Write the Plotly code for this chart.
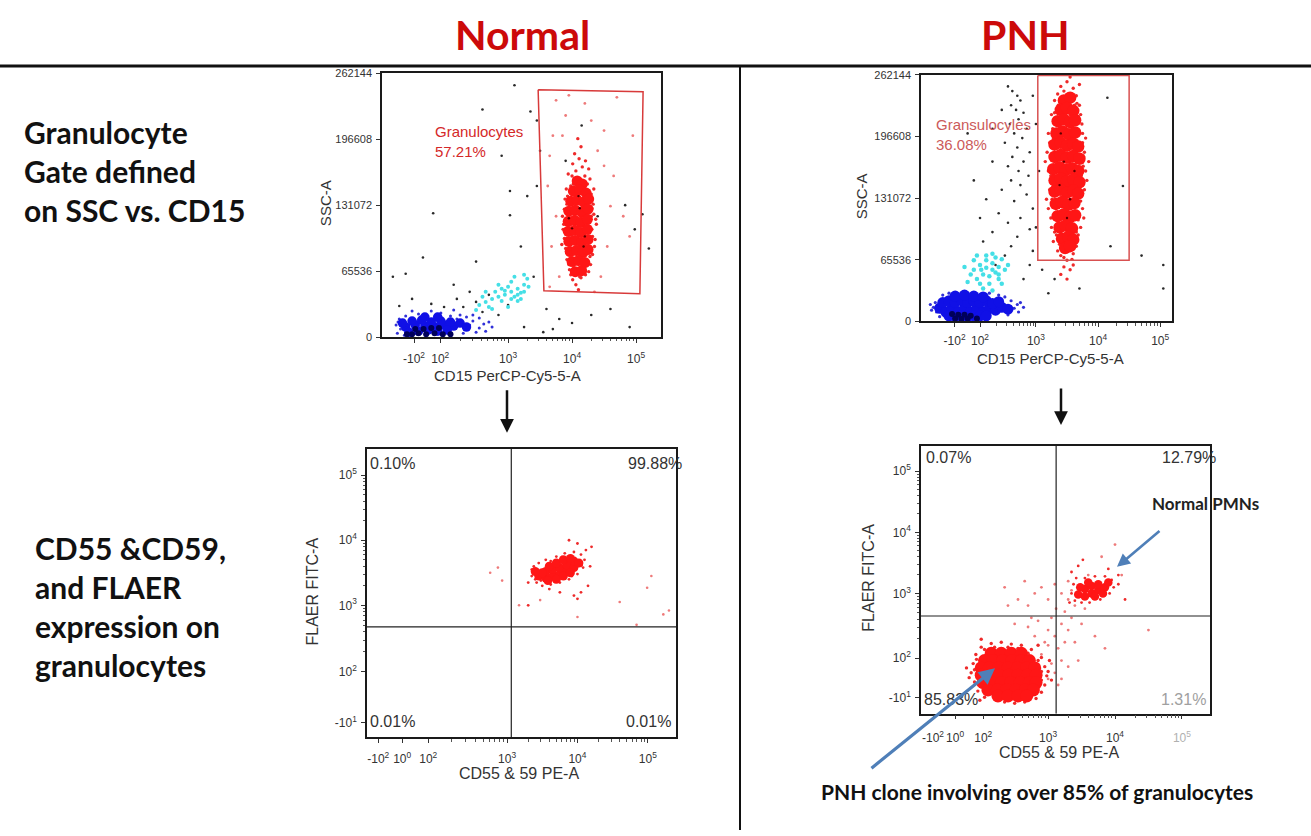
import math
import plotly.graph_objects as go

W, H = 1311, 836

# ---------------- tick definitions (positions in display/decade units) ----------------
SSC_TICKS = [0, 65536, 131072, 196608, 262144]
P1_X_TICKPOS = [1.53, 1.94, 3, 4, 5]
P1_X_TICKTXT = ["-10<sup>2</sup>", "10<sup>2</sup>", "10<sup>3</sup>", "10<sup>4</sup>", "10<sup>5</sup>"]
P2_X_TICKPOS = [1.69, 2.10, 3, 4, 5]
P3_X_TICKPOS = [1.17, 1.51, 1.88, 3, 4, 5]
P3_X_TICKTXT = ["-10<sup>2</sup>", "10<sup>0</sup>", "10<sup>2</sup>", "10<sup>3</sup>", "10<sup>4</sup>", "10<sup>5</sup>"]
P3_Y_TICKPOS = [1.20, 1.98, 3, 4, 5]
P3_Y_TICKTXT = ["-10<sup>1</sup>", "10<sup>2</sup>", "10<sup>3</sup>", "10<sup>4</sup>", "10<sup>5</sup>"]
P4_X_TICKPOS = [1.28, 1.61, 2.03, 3, 4, 5]
P4_X_TICKTXT = ["-10<sup>2</sup>", "10<sup>0</sup>", "10<sup>2</sup>", "10<sup>3</sup>", "10<sup>4</sup>",
                "<span style='color:#b0b0b0'>10<sup>5</sup></span>"]
P4_Y_TICKPOS = [1.29, 1.94, 3, 4, 5]

# ---------------- gates / quadrants / labels ----------------
P1_GATE_X = [3.47, 5.11, 5.06, 3.56, 3.47]
P1_GATE_Y = [245.5, 243.5, 43, 46, 245.5]          # SSC in thousands
P2_GATE_X = [3.03, 4.50, 4.50, 3.03, 3.03]
P2_GATE_Y = [261.5, 261.5, 65, 65, 261.5]
P3_QUAD = (3.06, 2.67)
P4_QUAD = (3.12, 2.63)
P1_GATE_LABEL = ["Granulocytes", "57.21%"]
P2_GATE_LABEL = ["Gransulocyles", "36.08%"]
P3_QUAD_PCT = ["0.10%", "99.88%", "0.01%", "0.01%"]
P4_QUAD_PCT = ["0.07%", "12.79%", "85.83%", "1.31%"]

# ---------------- Panel 1 : Normal, SSC (k) vs CD15 ----------------
P1_GRAN_CORE = [
    (4.08, 155), (4.16, 152),
    (4.02, 145), (4.12, 146), (4.22, 143),
    (3.98, 135), (4.08, 136), (4.18, 134), (4.26, 137),
    (3.95, 125), (4.05, 126), (4.15, 124), (4.25, 127),
    (3.94, 115), (4.04, 116), (4.14, 114), (4.24, 117),
    (3.94, 105), (4.04, 106), (4.14, 104), (4.24, 107),
    (3.95, 95), (4.05, 96), (4.15, 94), (4.25, 97),
    (3.97, 85), (4.07, 86), (4.17, 84), (4.25, 87),
    (4.0, 75), (4.1, 76), (4.2, 74),
    (4.05, 65), (4.15, 66)]
P1_GRAN_HALO = [
    (3.86, 107), (3.88, 127), (3.84, 92), (3.91, 147), (3.92, 77), (3.94, 162), (3.96, 67), (3.9, 117),
    (3.93, 102), (3.89, 137), (4.31, 107), (4.34, 122), (4.36, 97), (4.3, 142), (4.32, 82), (4.28, 157),
    (4.33, 132), (4.38, 112), (4.29, 72), (4.26, 167), (4.01, 172), (4.11, 177), (4.16, 169), (4.04, 182),
    (4.14, 189), (4.09, 197), (4.06, 165), (4.21, 175), (4.01, 57), (4.06, 52), (4.14, 59), (4.21, 62),
    (3.98, 62), (4.1, 47), (4.26, 65), (3.96, 82), (4.28, 89), (3.92, 132), (4.34, 147), (4.02, 152),
    (4.24, 152), (4.16, 64), (4.03, 69), (3.9, 88), (4.35, 90), (3.95, 112), (4.3, 120), (4.0, 100),
    (4.2, 130), (4.12, 110), (3.98, 150), (4.22, 100), (3.88, 98), (3.87, 112), (4.32, 100), (4.31, 128),
    (3.93, 140), (4.28, 80), (3.95, 72), (4.2, 160), (4.0, 160), (4.12, 60), (3.85, 120), (4.37, 117)]
P1_GRAN_SPARSE = [
    (3.7, 200), (3.9, 220), (4.3, 215), (4.5, 205), (3.65, 180), (4.6, 130), (4.8, 120), (3.68, 90),
    (4.45, 60), (3.75, 235), (4.7, 238), (3.62, 150), (4.9, 100), (3.65, 50), (4.5, 170), (4.2, 232),
    (3.95, 240), (4.55, 90), (3.8, 60), (4.4, 185), (3.75, 120), (4.65, 160), (4.95, 200), (4.35, 45),
    (3.85, 200)]
P1_DARK = [
    (1.83, 123), (1.67, 79), (1.4, 63), (3.03, 145), (3.03, 121), (2.6, 226), (3.35, 224), (4.83, 131),
    (4.98, 107), (2.5, 75), (2.9, 180), (3.3, 140), (3.45, 150), (1.2, 60), (3.4, 60), (3.45, 215),
    (2.3, 30), (2.5, 35), (2.7, 42), (2.2, 38), (2.6, 25), (2.85, 22), (3.0, 32), (2.4, 45), (2.0, 30),
    (1.8, 33), (1.5, 38), (1.3, 31), (3.6, 28), (3.8, 18), (4.0, 14), (3.7, 8), (3.25, 10), (3.55, 5),
    (4.3, 22), (4.6, 28), (4.9, 10), (5.2, 88), (5.1, 122), (3.2, 90), (2.15, 52), (3.5, 185), (3.1, 250),
    (4.15, 210), (3.9, 175), (4.4, 120), (4.05, 85), (4.1, 140), (3.95, 118), (4.2, 100), (4.12, 128),
    (4.0, 108), (4.18, 90)]
P1_LYMPH = [
    (1.40, 10), (1.55, 12), (1.70, 11), (1.85, 10), (2.0, 12), (2.15, 11), (1.5, 16), (1.65, 17), (1.8, 15),
    (1.95, 16), (2.1, 15), (1.6, 6), (1.75, 7), (1.9, 6), (1.45, 5), (2.05, 7), (1.35, 14), (2.25, 14),
    (1.7, 20), (1.9, 20), (2.35, 10)]
P1_LYMPH_HALO = [
    (1.25, 12), (1.3, 18), (1.32, 8), (1.27, 4), (2.4, 12), (2.45, 16), (2.55, 9), (2.62, 13), (2.35, 20),
    (2.25, 22), (1.95, 24), (1.6, 23), (1.4, 21), (2.1, 21), (2.7, 15), (2.5, 5), (2.3, 4), (1.38, 2),
    (2.75, 10), (2.55, 19), (1.8, 26), (2.15, 27), (1.5, 26), (2.65, 6), (2.45, 22), (2.2, 18), (1.28, 15)]
P1_NAVY = [(1.5, 3), (1.6, 4), (1.72, 3), (1.85, 4), (1.98, 3), (1.68, 8), (1.8, 9), (1.55, 8), (1.92, 9),
           (2.1, 3), (1.42, 3)]
P1_MONO = [
    (2.55, 32), (2.65, 35), (2.75, 38), (2.85, 40), (2.95, 42), (3.05, 45), (3.15, 48), (3.25, 52), (2.7, 30),
    (2.8, 45), (2.9, 36), (3.0, 50), (3.1, 40), (3.2, 44), (3.3, 58), (2.6, 40), (2.9, 48), (3.05, 55),
    (3.15, 36), (2.75, 28), (3.25, 62), (3.32, 50), (2.5, 27), (3.0, 30), (2.85, 52), (3.1, 60), (2.65, 45),
    (3.2, 38), (3.05, 38), (3.15, 42), (2.95, 46), (3.25, 45)]

# ---------------- Panel 2 : PNH, SSC (k) vs CD15 ----------------
P2_GRAN_CORE = [
    (3.45, 235), (3.55, 238),
    (3.40, 225), (3.50, 227), (3.60, 224),
    (3.35, 213), (3.45, 215), (3.55, 212), (3.63, 214),
    (3.33, 200), (3.43, 202), (3.53, 199), (3.63, 201),
    (3.30, 188), (3.40, 190), (3.50, 187), (3.60, 189), (3.68, 186),
    (3.30, 175), (3.40, 177), (3.50, 174), (3.60, 176), (3.70, 173),
    (3.28, 162), (3.38, 164), (3.48, 161), (3.58, 163), (3.68, 160),
    (3.30, 150), (3.40, 152), (3.50, 149), (3.60, 151), (3.70, 148),
    (3.30, 138), (3.40, 140), (3.50, 137), (3.60, 139), (3.68, 136),
    (3.32, 125), (3.42, 127), (3.52, 124), (3.62, 126),
    (3.35, 112), (3.45, 114), (3.55, 111), (3.63, 113),
    (3.38, 100), (3.48, 102), (3.58, 99),
    (3.42, 88), (3.52, 90), (3.6, 87),
    (3.47, 78), (3.55, 80)]
P2_GRAN_HALO = [
    (3.4, 250), (3.5, 255), (3.6, 248), (3.55, 260), (3.45, 245), (3.65, 240), (3.35, 242), (3.7, 252),
    (3.2, 200), (3.18, 180), (3.2, 160), (3.22, 140), (3.2, 120), (3.25, 100), (3.28, 85), (3.25, 220),
    (3.3, 235), (3.15, 170), (3.17, 130), (3.22, 190), (3.24, 110), (3.78, 180), (3.8, 160), (3.78, 140),
    (3.75, 120), (3.72, 100), (3.75, 200), (3.72, 220), (3.8, 195), (3.82, 150), (3.7, 230), (3.85, 170),
    (3.77, 110), (3.4, 70), (3.5, 65), (3.6, 72), (3.45, 58), (3.55, 55), (3.35, 75), (3.65, 80), (3.5, 45),
    (3.4, 50), (3.6, 60), (3.26, 150), (3.74, 210), (3.3, 95), (3.68, 92), (3.36, 230), (3.66, 232),
    (3.27, 205), (3.25, 175), (3.24, 155), (3.26, 130), (3.3, 112), (3.33, 92), (3.75, 190), (3.76, 165),
    (3.74, 145), (3.72, 128), (3.68, 108), (3.65, 95), (3.38, 82), (3.62, 84), (3.45, 68), (3.58, 66),
    (3.5, 240), (3.42, 232), (3.62, 230), (3.68, 218), (3.3, 222), (3.28, 195), (3.77, 175), (3.73, 155),
    (3.23, 165), (3.27, 143)]
P2_DARK = [
    (2.55, 250), (2.62, 245), (2.7, 240), (2.75, 235), (2.6, 230), (2.68, 225), (2.8, 222), (2.72, 215),
    (2.58, 210), (2.85, 205), (2.65, 200), (2.78, 195), (2.5, 190), (2.7, 185), (2.9, 180), (2.62, 175),
    (2.8, 170), (2.55, 165), (2.72, 160), (2.88, 155), (2.6, 150), (2.75, 145), (2.45, 140), (2.85, 135),
    (2.65, 128), (2.95, 120), (2.4, 115), (2.75, 110), (2.55, 105), (2.9, 98), (2.3, 95), (2.7, 90),
    (2.6, 80), (2.95, 75), (2.2, 130), (2.1, 110), (2.0, 150), (1.9, 200), (2.3, 170), (2.15, 85),
    (2.5, 70), (2.35, 60), (3.0, 210), (2.95, 240), (3.05, 160), (3.0, 100), (2.45, 225), (2.3, 205),
    (4.15, 238), (4.4, 144), (5.05, 60), (5.05, 35), (4.2, 80), (4.7, 70), (2.9, 60), (3.1, 55),
    (3.3, 45), (3.7, 35), (3.2, 30), (2.8, 45), (3.45, 170), (3.55, 130), (3.4, 200), (3.62, 160),
    (3.5, 110), (3.38, 145)]
P2_MONO = [
    (2.0, 55), (2.1, 60), (2.2, 65), (2.3, 62), (2.4, 58), (2.15, 50), (2.25, 48), (2.35, 52), (2.05, 45),
    (2.45, 66), (2.2, 70), (2.3, 72), (1.95, 50), (2.1, 40), (2.25, 40), (2.4, 45), (2.5, 55), (2.0, 65),
    (1.9, 42), (2.15, 35), (2.3, 33), (2.55, 60), (2.35, 68), (2.05, 70), (1.85, 58), (2.45, 40),
    (2.2, 57), (2.3, 55), (2.12, 55), (2.4, 50)]
P2_LYMPH = [
    (1.45, 14), (1.55, 10), (1.65, 14), (1.75, 10), (1.85, 14), (1.95, 10), (2.05, 14), (2.15, 10),
    (2.25, 14), (2.35, 12), (2.45, 15), (2.55, 13),
    (1.5, 20), (1.6, 22), (1.7, 20), (1.8, 23), (1.9, 20), (2.0, 22), (2.1, 20), (2.2, 22), (2.3, 19),
    (2.4, 21),
    (1.6, 6), (1.7, 5), (1.8, 6), (1.9, 5), (2.0, 6), (2.1, 6), (2.2, 6),
    (1.7, 27), (1.85, 28), (2.0, 27), (2.15, 26)]
P2_LYMPH_HALO = [
    (1.35, 15), (1.38, 20), (1.4, 10), (2.65, 14), (2.7, 18), (2.72, 10), (1.5, 28), (2.4, 28), (1.3, 18),
    (2.6, 22), (2.55, 7), (1.45, 5), (2.8, 15), (1.6, 30), (2.25, 30), (1.32, 12), (2.75, 20), (2.5, 26)]
P2_NAVY = [(1.7, 3), (1.8, 2.5), (1.9, 3), (1.85, 7), (1.75, 7), (1.95, 6), (1.65, 8), (2.05, 3)]

# ---------------- Panel 3 : Normal, FLAER vs CD55/59 ----------------
P3_CORE = [
    (3.45, 3.45), (3.55, 3.42), (3.55, 3.52), (3.65, 3.45), (3.65, 3.55), (3.75, 3.48), (3.75, 3.58),
    (3.85, 3.52), (3.85, 3.62), (3.95, 3.58), (3.95, 3.68), (4.02, 3.65), (3.5, 3.5), (3.6, 3.6),
    (3.7, 3.65), (3.8, 3.7), (3.9, 3.72), (3.7, 3.4), (3.8, 3.45), (3.9, 3.5), (3.4, 3.52), (3.58, 3.38)]
P3_HALO = [
    (3.35, 3.45), (3.38, 3.6), (3.42, 3.35), (3.5, 3.3), (3.62, 3.32), (3.75, 3.35), (3.88, 3.4), (4.0, 3.48),
    (4.08, 3.58), (4.1, 3.7), (4.05, 3.78), (3.95, 3.82), (3.82, 3.8), (3.7, 3.75), (3.55, 3.7), (3.45, 3.65),
    (3.35, 3.55), (4.12, 3.85), (4.2, 3.9), (4.0, 3.95), (3.88, 4.0), (4.15, 3.3), (4.05, 3.2), (3.95, 3.15),
    (4.0, 3.1), (3.75, 3.2), (3.3, 3.0), (3.6, 3.25), (4.18, 3.6), (3.3, 3.35), (3.4, 3.4), (3.48, 3.38),
    (3.68, 3.36), (3.92, 3.45), (4.06, 3.62), (3.62, 3.68), (3.78, 3.74)]
P3_SPARSE = [
    (2.76, 3.5), (2.87, 3.58), (2.93, 3.38), (3.17, 3.0), (3.47, 3.08), (4.0, 2.82), (4.6, 3.05),
    (4.99, 3.27), (5.05, 3.45), (5.22, 2.86), (5.3, 2.92), (4.84, 2.70)]

# ---------------- Panel 4 : PNH, FLAER vs CD55/59 ----------------
P4_CLONE_CORE = [
    (2.15, 2.02), (2.3, 2.02), (2.45, 2.02), (2.6, 2.02),
    (2.05, 1.9), (2.18, 1.9), (2.32, 1.9), (2.46, 1.9), (2.6, 1.9), (2.72, 1.9),
    (2.0, 1.78), (2.12, 1.78), (2.26, 1.78), (2.4, 1.78), (2.54, 1.78), (2.68, 1.78), (2.8, 1.78),
    (2.0, 1.66), (2.13, 1.66), (2.27, 1.66), (2.41, 1.66), (2.55, 1.66), (2.69, 1.66), (2.82, 1.66),
    (2.03, 1.54), (2.16, 1.54), (2.3, 1.54), (2.44, 1.54), (2.58, 1.54), (2.72, 1.54), (2.82, 1.54),
    (2.1, 1.42), (2.24, 1.42), (2.38, 1.42), (2.52, 1.42), (2.66, 1.42), (2.78, 1.42),
    (2.25, 1.32), (2.4, 1.32), (2.55, 1.32), (2.68, 1.32)]
P4_CLONE_HALO = [
    (1.85, 1.7), (1.88, 1.85), (1.9, 1.55), (1.92, 2.0), (1.95, 1.4), (1.82, 1.62), (2.0, 2.12),
    (2.15, 2.18), (2.3, 2.2), (2.45, 2.17), (2.6, 2.15), (2.75, 2.08), (2.9, 1.95), (2.95, 1.8),
    (2.98, 1.65), (2.95, 1.5), (2.9, 1.38), (2.82, 1.28), (2.65, 1.22), (2.5, 1.2), (2.35, 1.22),
    (2.2, 1.28), (2.05, 1.3), (1.98, 1.25), (3.0, 1.72), (3.05, 1.58), (3.02, 1.9), (1.78, 1.78),
    (2.85, 2.15), (2.0, 2.25), (1.9, 1.75), (1.93, 1.92), (1.96, 1.5), (2.05, 2.08), (2.2, 2.12),
    (2.4, 2.12), (2.55, 2.1), (2.7, 2.02), (2.85, 1.9), (2.9, 1.72), (2.9, 1.58), (2.85, 1.45),
    (2.75, 1.32), (2.6, 1.27), (2.4, 1.26), (2.2, 1.33), (2.08, 1.4), (1.95, 1.62)]
P4_BRIDGE = [
    (2.9, 2.0), (2.95, 2.2), (3.0, 2.4), (3.05, 2.6), (3.1, 2.3), (3.15, 2.1), (3.2, 1.9), (3.1, 1.7),
    (3.0, 1.6), (3.2, 2.5), (3.25, 2.7), (3.3, 2.9), (3.35, 3.05), (3.25, 2.2), (3.3, 2.4), (3.35, 2.6),
    (3.2, 1.6), (3.15, 1.5), (3.05, 1.85), (3.4, 2.8), (3.45, 2.95), (2.85, 2.55), (2.8, 2.3), (2.75, 2.6),
    (2.7, 2.8), (3.0, 2.9), (2.9, 3.1), (3.1, 3.15), (3.4, 2.2), (3.5, 2.5), (3.3, 1.8), (2.65, 3.2),
    (2.8, 3.0), (3.55, 2.75), (3.45, 1.9), (2.7, 2.45), (3.0, 2.15), (3.12, 2.75), (3.2, 3.0), (3.3, 3.2),
    (2.5, 2.5), (2.4, 2.8), (2.35, 3.1), (2.55, 2.9), (3.6, 3.3), (3.7, 2.3), (3.85, 2.1), (4.1, 3.3),
    (4.5, 2.4), (4.0, 3.8), (3.8, 3.6)]
P4_PMN_CORE = [
    (3.45, 2.98), (3.55, 2.95), (3.55, 3.07), (3.65, 3.0), (3.65, 3.12), (3.75, 3.05), (3.75, 3.15),
    (3.85, 3.1), (3.48, 3.1), (3.6, 3.18), (3.7, 2.95), (3.82, 3.0), (3.9, 3.18)]
P4_PMN_HALO = [
    (3.35, 3.0), (3.38, 3.15), (3.4, 2.88), (3.5, 2.85), (3.62, 2.85), (3.78, 2.9), (3.92, 3.0),
    (3.98, 3.1), (3.95, 3.22), (3.85, 3.28), (3.7, 3.28), (3.55, 3.25), (3.42, 3.25), (3.35, 3.35),
    (3.45, 3.45), (3.52, 3.55), (4.05, 3.15), (4.05, 3.3), (3.9, 3.4), (4.15, 2.9), (3.32, 2.85)]

# ====================================================================================
fig = go.Figure()


def px_x(p):
    return p / W


def px_y(p):
    return 1 - p / H


def dots(pts, ax, color, size, opacity=1.0):
    fig.add_trace(go.Scatter(
        x=[p[0] for p in pts], y=[p[1] for p in pts], mode="markers",
        xaxis="x" + ax, yaxis="y" + ax, hoverinfo="skip",
        marker=dict(color=color, size=size, opacity=opacity, line=dict(width=0))))


def line(xs, ys, ax, color, width):
    fig.add_trace(go.Scatter(x=xs, y=ys, mode="lines", xaxis="x" + ax, yaxis="y" + ax,
                             hoverinfo="skip", line=dict(color=color, width=width)))


RED, RED_H, RED_S = "#ff1616", "#ee2a2a", "#ee7a7a"
BLUE, BLUE_H, NAVY = "#1010e6", "#3030d8", "#00005a"
CYAN, DARK = "#45dfe6", "#2a2a2a"

# Panel 1
dots(P1_DARK, "", DARK, 2.6)
dots(P1_GRAN_SPARSE, "", RED_S, 2.8)
dots(P1_MONO, "", CYAN, 4)
dots(P1_LYMPH_HALO, "", BLUE_H, 3)
dots(P1_LYMPH, "", BLUE, 9.5)
dots(P1_NAVY, "", NAVY, 6)
dots(P1_GRAN_HALO, "", RED_H, 3.4)
dots(P1_GRAN_CORE, "", RED, 11)
dots(P1_DARK[-6:], "", "#5a0000", 2.4)
line(P1_GATE_X, P1_GATE_Y, "", "#d83a3a", 1.5)

# Panel 2
dots(P2_DARK, "2", DARK, 2.6)
dots(P2_MONO, "2", CYAN, 4.5)
dots(P2_LYMPH_HALO, "2", BLUE_H, 3.2)
dots(P2_LYMPH, "2", BLUE, 11)
dots(P2_NAVY, "2", NAVY, 6)
dots(P2_GRAN_HALO, "2", RED_H, 3.4)
dots(P2_GRAN_CORE, "2", RED, 12.5)
dots(P2_DARK[-6:], "2", "#600000", 2.4)
line(P2_GATE_X, P2_GATE_Y, "2", "#d85050", 1.5)

# Panel 3
dots(P3_SPARSE, "3", RED_S, 2.6)
dots(P3_HALO, "3", RED_H, 2.8)
dots(P3_CORE, "3", RED, 9)
P3_XR, P3_YR = [1.01, 5.40], [0.97, 5.41]
line([P3_QUAD[0], P3_QUAD[0]], P3_YR, "3", "#222", 1.2)
line(P3_XR, [P3_QUAD[1], P3_QUAD[1]], "3", "#222", 1.2)

# Panel 4
dots(P4_BRIDGE, "4", RED_S, 2.8)
dots(P4_CLONE_HALO, "4", RED_H, 3.4)
dots(P4_CLONE_CORE, "4", RED, 13)
dots(P4_PMN_HALO, "4", RED_H, 2.8)
dots(P4_PMN_CORE, "4", RED, 8.5)
P4_XR, P4_YR = [1.10, 5.42], [1.03, 5.42]
line([P4_QUAD[0], P4_QUAD[0]], P4_YR, "4", "#222", 1.2)
line(P4_XR, [P4_QUAD[1], P4_QUAD[1]], "4", "#222", 1.2)


def log_minor(p2):
    vals = [p2 + (3 - p2) * math.log10(m) for m in range(2, 10)]
    vals += [k + math.log10(m) for k in (3, 4) for m in range(2, 10)]
    return vals


TICKFONT = dict(family="Liberation Sans, Arial", size=11, color="#333")


def axis(domain, rng, tickvals, ticktext, anchor, minor=None, fsize=12, standoff=4):
    d = dict(domain=domain, range=rng, anchor=anchor, tickmode="array", tickvals=tickvals,
             ticktext=ticktext, showline=True, linecolor="#1a1a1a", linewidth=1.5, mirror=True,
             ticks="outside", ticklen=4, tickcolor="#333", tickwidth=1, showgrid=False, zeroline=False,
             fixedrange=True, tickfont=dict(TICKFONT, size=fsize), ticklabelstandoff=standoff,
             tickangle=0)
    if minor is not None:
        d["minor"] = dict(tickmode="array", tickvals=minor, ticks="outside", ticklen=2.5,
                          tickcolor="#555", showgrid=False)
    return d


ssc_vals = [v / 1000 for v in SSC_TICKS]
ssc_txt = [str(v) for v in SSC_TICKS]

fig.update_layout(
    width=W, height=H, margin=dict(l=0, r=0, t=0, b=0), showlegend=False,
    paper_bgcolor="white", plot_bgcolor="white",
    xaxis=axis([382 / W, 661 / W], [1.03, 5.39], P1_X_TICKPOS, P1_X_TICKTXT, "y",
               log_minor(P1_X_TICKPOS[1]), 12, 6),
    yaxis=axis([1 - 336 / H, 1 - 68 / H], [0, 262.144], ssc_vals, ssc_txt, "x", None, 11, 2),
    xaxis2=axis([921 / W, 1172 / W], [1.15, 5.19], P2_X_TICKPOS, P1_X_TICKTXT, "y2",
                log_minor(P2_X_TICKPOS[1]), 12, 3),
    yaxis2=axis([1 - 320 / H, 1 - 70 / H], [0, 262.144], ssc_vals, ssc_txt, "x2", None, 11, 2),
    xaxis3=axis([367 / W, 676 / W], P3_XR, P3_X_TICKPOS, P3_X_TICKTXT, "y3",
                log_minor(P3_X_TICKPOS[2]), 12, 6),
    yaxis3=axis([1 - 742 / H, 1 - 449 / H], P3_YR, P3_Y_TICKPOS, P3_Y_TICKTXT, "x3",
                log_minor(P3_Y_TICKPOS[1]), 12, 2),
    xaxis4=axis([921 / W, 1210 / W], P4_XR, P4_X_TICKPOS, P4_X_TICKTXT, "y4",
                log_minor(P4_X_TICKPOS[2]), 12, 8),
    yaxis4=axis([1 - 718 / H, 1 - 446 / H], P4_YR, P4_Y_TICKPOS, P3_Y_TICKTXT, "x4",
                log_minor(P4_Y_TICKPOS[1]), 12, 2),
)

ann = []


def text(t, x, y, size, color="#111", family="Liberation Sans, Arial", xanchor="center",
         yanchor="middle", angle=0, align="left", xref="paper", yref="paper"):
    if xref == "paper":
        x = px_x(x)
    if yref == "paper":
        y = px_y(y)
    ann.append(dict(text=t, x=x, y=y, xref=xref, yref=yref, xanchor=xanchor, yanchor=yanchor,
                    showarrow=False, textangle=angle, align=align,
                    font=dict(family=family, size=size, color=color)))


BOLD = "Lato, Open Sans, sans-serif"
# headers
text("<b>Normal</b>", 522, 29, 41, "#cc0a0a", BOLD)
text("<b>PNH</b>", 1025, 29, 41, "#cc0a0a", BOLD)
# row descriptions
text("<b>Granulocyte<br>Gate defined<br>on SSC vs. CD15</b>", 22, 167, 30, "#111", BOLD, "left")
text("<b>CD55 &CD59,<br>and FLAER<br>expression on<br>granulocytes</b>", 33, 609, 30, "#111", BOLD, "left")

# axis titles
text("CD15 PerCP-Cy5-5-A", 508, 375, 15, "#333")
text("SSC-A", 325, 200, 15, "#333", angle=-90)
text("CD15 PerCP-Cy5-5-A", 1050, 358, 15, "#333")
text("SSC-A", 861, 193, 15, "#333", angle=-90)
text("CD55 &amp; 59 PE-A", 519, 779, 16, "#333")
text("FLAER FITC-A", 312, 594, 16, "#333", angle=-90)
text("CD55 &amp; 59 PE-A", 1059, 757, 16, "#333")
text("FLAER FITC-A", 869, 580, 16, "#333", angle=-90)

# gate labels
text(P1_GATE_LABEL[0] + "<br>" + P1_GATE_LABEL[1], 433, 137, 15, "#d42828", xanchor="left")
text(P2_GATE_LABEL[0] + "<br>" + P2_GATE_LABEL[1], 934, 130, 15, "#cc5a5a", xanchor="left")

# quadrant percentages
QF = 16
text(P3_QUAD_PCT[0], 368, 464, QF, "#333", xanchor="left")
text(P3_QUAD_PCT[1], 684, 464, QF, "#333", xanchor="right")
text(P3_QUAD_PCT[2], 368, 726, QF, "#333", xanchor="left")
text(P3_QUAD_PCT[3], 673, 726, QF, "#333", xanchor="right")
text(P4_QUAD_PCT[0], 924, 458, QF, "#333", xanchor="left")
text(P4_QUAD_PCT[1], 1218, 458, QF, "#333", xanchor="right")
text(P4_QUAD_PCT[2], 922, 704, QF, "#333", xanchor="left")
text(P4_QUAD_PCT[3], 1208, 704, QF, "#a0a0a0", xanchor="right")

# callouts
text("<b>Normal PMNs</b>", 1205, 505, 17, "#222", BOLD)
text("<b>PNH clone involving over 85% of granulocytes</b>", 1037, 797, 21, "#111", BOLD)


def arrow(hx, hy, tx, ty, color, width, head=2, size=1.0):
    ann.append(dict(x=px_x(hx), y=px_y(hy), xref="paper", yref="paper", ax=tx - hx, ay=ty - hy,
                    axref="pixel", ayref="pixel", showarrow=True, arrowhead=head, arrowsize=size,
                    arrowwidth=width, arrowcolor=color, text=""))


arrow(507, 433, 507, 389, "#111", 2.5, 2, 1.1)
arrow(1061, 425, 1061, 387, "#111", 2.5, 2, 1.1)
arrow(1117, 569, 1161, 532, "#4f7fb8", 2.6, 2, 1.0)
arrow(995, 672, 870, 773, "#4f7fb8", 3.2, 2, 1.0)

fig.update_layout(annotations=ann)

# separators
fig.update_layout(shapes=[
    dict(type="line", xref="paper", yref="paper", x0=0, x1=1, y0=px_y(61), y1=px_y(61),
         line=dict(color="#111", width=3)),
    dict(type="line", xref="paper", yref="paper", x0=px_x(740), x1=px_x(740), y0=0, y1=px_y(61),
         line=dict(color="#111", width=2)),
])

fig.write_html("out.html", config={"displayModeBar": False},
               post_script="document.body.style.margin='0';")
